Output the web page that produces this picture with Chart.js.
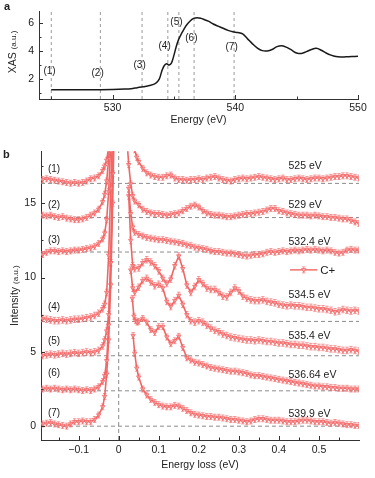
<!DOCTYPE html>
<html><head><meta charset="utf-8">
<script src="https://cdn.jsdelivr.net/npm/chart.js@4.4.0/dist/chart.umd.min.js"></script>
<style>
html,body{margin:0;padding:0;background:#fff;}
#wrap{position:relative;width:375px;height:478px;overflow:hidden;}
canvas{position:absolute;left:0;}
#ca{top:0;}
#cb{top:140px;}
</style></head><body>
<div id="wrap"><canvas id="ca" width="375" height="140"></canvas><canvas id="cb" width="375" height="338"></canvas></div>
<script>
// ---------- Panel a: XAS ----------
const xasEnergy = [525,526,527,528,529,530,531,531.5,532,532.5,533,533.5,533.8,534.0,534.2,534.4,534.6,534.8,535.0,535.2,535.4,535.6,535.8,536.0,536.3,536.6,536.9,537.2,537.5,537.8,538.2,538.6,539.0,539.4,539.8,540.2,540.6,541.0,541.4,541.8,542.2,542.6,543.0,543.4,543.8,544.2,544.6,545.0,545.4,545.8,546.2,546.6,547.0,547.4,547.8,548.2,548.6,549.0,549.5,550];
const xasValue  = [1.25,1.25,1.25,1.26,1.26,1.27,1.3,1.33,1.4,1.47,1.55,1.7,2.0,2.55,2.95,3.1,3.0,3.15,3.7,4.35,4.85,5.2,5.5,5.8,6.1,6.3,6.35,6.3,6.2,6.1,5.9,5.75,5.6,5.45,5.35,5.3,5.2,4.85,4.5,4.2,4.02,4.0,4.1,4.3,4.36,4.25,4.05,3.85,3.82,3.95,4.1,4.18,4.05,3.85,3.7,3.6,3.57,3.58,3.6,3.62];
const markEnergy = [525,529,532.4,534.5,535.4,536.64,539.9];
const markNames  = ['(1)','(2)','(3)','(4)','(5)','(6)','(7)'];
const markLabelE = [524.86,528.78,532.2,534.24,535.2,536.42,539.7];
const markLabelV = [2.53,2.44,3.0,4.36,6.04,4.88,4.29];
const xasXTicks = [530,540,550];
const xasYTicks = [2,4,6];

// ---------- Panel b: RIXS ----------
const leftX  = [-0.19,-0.18,-0.17,-0.16,-0.15,-0.14,-0.13,-0.12,-0.11,-0.10,-0.09,-0.08,-0.07,-0.06,-0.05,-0.04,-0.035,-0.03,-0.025,-0.02,-0.015,-0.01];
const rightX = [0.05,0.06,0.07,0.08,0.09,0.10,0.11,0.12,0.13,0.14,0.15,0.16,0.17,0.18,0.19,0.20,0.21,0.22,0.23,0.24,0.25,0.26,0.27,0.28,0.29,0.30,0.31,0.32,0.33,0.34,0.35,0.36,0.37,0.38,0.39,0.40,0.41,0.42,0.43,0.44,0.45,0.46,0.47,0.48,0.49,0.50,0.51,0.52,0.53,0.54,0.55,0.56,0.57,0.58,0.59,0.60];

const s1Left = [16.6,16.65,16.6,16.55,16.5,16.45,16.4,16.35,16.4,16.35,16.4,16.5,16.65,16.7,16.85,17.2,17.5,17.9,18.8,20];
const s2Left = [14.2,14.15,14.2,14.1,14.05,14.1,14.0,13.95,13.9,13.9,13.95,14.05,14.2,14.35,14.6,15.1,15.6,16.5,18.0,20];
const s3Left = [11.55,11.7,11.8,11.8,11.75,11.8,11.75,11.8,11.85,11.85,11.9,11.95,12.0,12.1,12.3,12.6,13.0,13.9,15.8,19.0];
const s4Left = [7.25,7.2,7.15,7.1,7.1,7.15,7.1,7.15,7.2,7.2,7.25,7.3,7.35,7.45,7.6,7.9,8.2,9.0,11.5,16.0,20];
const s5Left = [4.75,4.8,4.85,4.8,4.85,4.9,4.85,4.9,4.95,4.9,4.95,5.0,4.95,5.0,5.1,5.4,5.8,6.4,7.5,11.0,17.0,22];
const s6Left = [2.5,2.55,2.5,2.55,2.5,2.45,2.5,2.45,2.5,2.45,2.4,2.45,2.4,2.5,2.65,3.0,3.4,4.4,6.8,11.0,17.0,23];
const s7Left = [0.15,0.2,0.25,0.15,0.1,0.05,0.0,0.15,0.3,0.3,0.35,0.3,0.3,0.45,0.75,1.3,2.0,3.5,5.8,9.5,15.0,22];

const s1HeadX = [0.035,0.04,0.045],             s1HeadY = [19.5,18.6,18.1];
const s2HeadX = [0.02,0.025,0.03,0.035,0.04],   s2HeadY = [19.5,17.6,16.3,15.5,15.15];
const s3HeadX = [0.025,0.03,0.035,0.04],        s3HeadY = [16.0,14.3,13.4,13.05];
const s4HeadX = [0.025,0.03,0.035,0.04],        s4HeadY = [15.5,12.5,10.8,10.6];
const s5HeadX = [0.03,0.035,0.04],              s5HeadY = [10.5,9.3,9.0];
const s6HeadX = [0.034,0.038,0.042,0.046],      s6HeadY = [8.6,7.4,7.1,7.0];
const s7HeadX = [0.036,0.04,0.045],             s7HeadY = [6.1,4.9,3.9];

const s1Right = [17.8,17.35,17.05,16.9,16.8,16.75,16.75,16.85,16.9,16.7,16.6,16.6,16.55,16.6,16.6,16.65,16.6,16.7,16.75,16.8,16.7,16.6,16.55,16.5,16.6,16.65,16.7,16.65,16.7,16.75,16.8,16.75,16.7,16.65,16.6,16.65,16.7,16.6,16.6,16.65,16.7,16.65,16.6,16.65,16.7,16.7,16.65,16.7,16.75,16.8,16.8,16.85,16.85,16.8,16.75,16.7];
const s2Right = [14.9,14.6,14.45,14.35,14.3,14.3,14.25,14.2,14.25,14.3,14.35,14.5,14.65,14.8,14.88,14.75,14.5,14.35,14.25,14.2,14.2,14.15,14.1,14.1,14.15,14.2,14.25,14.3,14.3,14.35,14.4,14.45,14.55,14.65,14.65,14.5,14.45,14.35,14.3,14.25,14.2,14.2,14.2,14.15,14.2,14.15,14.1,14.1,14.05,14.05,14.0,13.95,13.95,13.85,13.75,13.65];
const s3Right = [12.9,12.8,12.7,12.65,12.6,12.55,12.55,12.5,12.45,12.4,12.35,12.3,12.2,12.15,12.05,12.0,11.95,11.9,11.8,11.75,11.75,11.7,11.65,11.65,11.6,11.55,11.5,11.45,11.5,11.55,11.55,11.6,11.7,11.75,11.7,11.75,11.8,11.75,11.8,11.85,11.8,11.85,11.9,11.85,11.9,11.85,11.8,11.85,11.8,11.7,11.65,11.7,11.85,11.9,11.85,11.85];
const s4Right = [10.65,11.0,11.2,11.05,10.8,10.45,9.95,9.6,9.9,10.8,11.45,10.6,9.5,9.0,9.4,9.85,9.6,9.3,9.2,9.2,9.0,8.75,8.7,9.0,9.3,9.1,8.75,8.6,8.5,8.45,8.45,8.5,8.4,8.35,8.3,8.2,8.15,8.1,8.15,8.1,8.1,8.05,8.0,8.0,7.95,7.9,7.9,7.85,7.8,7.7,7.75,7.85,7.8,7.75,7.8,7.75];
const s5Right = [9.35,9.8,9.95,9.7,9.45,9.55,9.3,8.4,8.05,8.45,8.8,8.2,7.5,7.1,7.0,7.1,7.0,6.8,6.6,6.45,6.35,6.2,6.1,6.0,5.95,5.9,5.85,5.8,5.8,5.75,5.8,5.75,5.7,5.7,5.65,5.6,5.6,5.55,5.5,5.5,5.45,5.45,5.4,5.35,5.35,5.3,5.3,5.25,5.2,5.2,5.15,5.1,5.1,5.15,5.1,5.05];
const s6Right = [7.05,7.25,7.0,6.5,6.3,6.7,6.7,6.0,5.55,5.75,6.05,5.3,4.6,4.45,4.3,4.25,4.15,4.05,3.95,3.9,3.85,3.8,3.75,3.7,3.7,3.65,3.6,3.55,3.45,3.4,3.4,3.35,3.3,3.25,3.2,3.15,3.1,3.05,3.0,2.95,2.9,2.85,2.8,2.75,2.7,2.7,2.65,2.65,2.6,2.6,2.55,2.55,2.55,2.5,2.5,2.5];
const s7Right = [3.3,2.5,2.1,1.8,1.6,1.45,1.35,1.3,1.3,1.4,1.35,1.2,1.05,0.9,0.8,0.75,0.7,0.65,0.65,0.6,0.6,0.55,0.5,0.45,0.45,0.4,0.35,0.3,0.35,0.45,0.5,0.5,0.45,0.4,0.4,0.4,0.35,0.3,0.3,0.3,0.35,0.4,0.4,0.35,0.3,0.3,0.3,0.25,0.2,0.25,0.2,0.15,0.1,0.1,0.05,0.05];

const errBar = [0.2,0.2,0.2,0.22,0.22,0.2,0.2];
const baselines = [16.34,14.04,11.72,7.05,4.74,2.38,0];
const specNames = ['(1)','(2)','(3)','(4)','(5)','(6)','(7)'];
const specEnergies = ['525 eV','529 eV','532.4 eV','534.5 eV','535.4 eV','536.64 eV','539.9 eV'];
const lossXTicks = [-0.1,0,0.1,0.2,0.3,0.4,0.5];
const lossXMinor = [-0.15,-0.05,0.05,0.15,0.25,0.35,0.45,0.55];
const lossYTicks = [0,5,10,15];
const lossYMinor = [2.5,7.5,12.5,17.5];

// ---------- layout / style (not data) ----------
const FONT = '"Liberation Sans", Arial, Helvetica, sans-serif';
const RED = '#f26565';
const numLabelX = -0.1615, numLabelY = [17.28,14.85,12.5,8.0,5.7,3.53,0.9];
const eLabelX = 0.424, eLabelY = [17.5,14.85,12.42,8.83,6.07,3.44,0.84];
const legendPos = {x1:0.428, x2:0.496, y:10.52, tx:0.503};
Chart.defaults.font.family = FONT;

function inwardTicks(ctx, a, xs, ys, xMaj, xMin, yMaj, yMin){
  ctx.strokeStyle='#333'; ctx.lineWidth=1;
  const ln=(x1,y1,x2,y2)=>{ctx.beginPath();ctx.moveTo(x1,y1);ctx.lineTo(x2,y2);ctx.stroke();};
  xMaj.forEach(v=>{const p=Math.round(xs.getPixelForValue(v))+0.5; ln(p,a.bottom,p,a.bottom-4);});
  xMin.forEach(v=>{const p=Math.round(xs.getPixelForValue(v))+0.5; ln(p,a.bottom,p,a.bottom-2.5);});
  yMaj.forEach(v=>{const p=Math.round(ys.getPixelForValue(v))+0.5; ln(a.left,p,a.left+4,p);});
  yMin.forEach(v=>{const p=Math.round(ys.getPixelForValue(v))+0.5; ln(a.left,p,a.left+2.5,p);});
}
function rotTitle(ctx, cx, cy, big, small, bs, ss){
  ctx.save(); ctx.translate(cx,cy); ctx.rotate(-Math.PI/2);
  ctx.font=bs+'px '+FONT; const w1=ctx.measureText(big).width;
  ctx.font=ss+'px '+FONT; const w2=ctx.measureText(small).width;
  const x0=-(w1+w2)/2; ctx.textAlign='left'; ctx.textBaseline='middle'; ctx.fillStyle='#222';
  ctx.font=bs+'px '+FONT; ctx.fillText(big,x0,0);
  ctx.font=ss+'px '+FONT; ctx.fillText(small,x0+w1,0.5);
  ctx.restore();
}

const annA = {
  id:'annA',
  afterDraw(chart){
    const {ctx, chartArea:a, scales:{x,y}} = chart;
    ctx.save();
    inwardTicks(ctx,a,x,y,xasXTicks,[525,535,545],xasYTicks,[1,3,5]);
    ctx.fillStyle='#222'; ctx.font='10px '+FONT; ctx.textAlign='center'; ctx.textBaseline='middle';
    markNames.forEach((n,i)=>ctx.fillText(n,x.getPixelForValue(markLabelE[i]),y.getPixelForValue(markLabelV[i])));
    ctx.font='10.5px '+FONT;
    ctx.fillText('Energy (eV)',(a.left+a.right)/2,a.bottom+21.5);
    ctx.font='bold 11px '+FONT; ctx.textAlign='left'; ctx.textBaseline='top';
    ctx.fillText('a',4,1);
    ctx.restore();
    rotTitle(ctx,13,52,'XAS ','(a.u.)',10.5,8);
  }
};

new Chart(document.getElementById('ca'),{
  type:'scatter',
  data:{datasets:[
    {data:xasEnergy.map((e,i)=>({x:e,y:xasValue[i]})),showLine:true,borderColor:'#1a1a1a',borderWidth:1.5,pointRadius:0,tension:0.35,order:0},
    ...markEnergy.map(e=>({data:[{x:e,y:0.6},{x:e,y:6.8}],showLine:true,borderColor:'#9a9a9a',borderWidth:1,borderDash:[3,3],pointRadius:0,order:1}))
  ]},
  options:{
    responsive:false,animation:false,devicePixelRatio:1,
    layout:{padding:{top:11,right:17,left:0,bottom:0}},
    plugins:{legend:{display:false},tooltip:{enabled:false}},
    scales:{
      x:{type:'linear',min:524,max:550,
        afterBuildTicks:s=>{s.ticks=xasXTicks.map(v=>({value:v}));},
        afterFit:s=>{s.height=41;},
        grid:{display:false,drawTicks:false},border:{display:true,color:'#333',width:1},
        ticks:{font:{size:10.5},color:'#222',padding:3,maxRotation:0,callback:v=>String(v)}},
      y:{type:'linear',min:0.6,max:6.8,
        afterBuildTicks:s=>{s.ticks=xasYTicks.map(v=>({value:v}));},
        afterFit:s=>{s.width=39;},
        grid:{display:false,drawTicks:false},border:{display:true,color:'#333',width:1},
        ticks:{font:{size:10.5},color:'#222',padding:5,callback:v=>String(v)}}
    }
  },
  plugins:[annA]
});

// ---------- panel b ----------
const lefts=[s1Left,s2Left,s3Left,s4Left,s5Left,s6Left,s7Left];
const headsX=[s1HeadX,s2HeadX,s3HeadX,s4HeadX,s5HeadX,s6HeadX,s7HeadX];
const headsY=[s1HeadY,s2HeadY,s3HeadY,s4HeadY,s5HeadY,s6HeadY,s7HeadY];
const rights=[s1Right,s2Right,s3Right,s4Right,s5Right,s6Right,s7Right];

const specSets = lefts.map((L,i)=>{
  const d = L.map((v,j)=>({x:leftX[j],y:v}))
    .concat([{x:0.005,y:null}])
    .concat(headsX[i].map((hx,j)=>({x:hx,y:headsY[i][j]})))
    .concat(rights[i].map((v,j)=>({x:rightX[j],y:v})));
  return {data:d,showLine:true,spanGaps:false,borderColor:RED,borderWidth:1.6,
    pointStyle:'triangle',rotation:180,pointRadius:2.5,pointBorderWidth:0.8,
    pointBorderColor:RED,pointBackgroundColor:'rgba(255,190,190,0.95)',order:0,err:errBar[i]};
});
const dashSets = baselines.map(b=>({data:[{x:-0.194,y:b},{x:0.6,y:b}],showLine:true,borderColor:'#8c8c8c',borderWidth:1,borderDash:[4,3],pointRadius:0,order:2}));
dashSets.push({data:[{x:0,y:-0.93},{x:0,y:18.5}],showLine:true,borderColor:'#8c8c8c',borderWidth:1,borderDash:[4,3],pointRadius:0,order:2});

const errPlugin = {
  id:'errbars',
  afterDatasetsDraw(chart){
    const {ctx, chartArea:a, scales:{y}} = chart;
    ctx.save();
    ctx.beginPath(); ctx.rect(a.left,a.top,a.right-a.left,a.bottom-a.top); ctx.clip();
    ctx.strokeStyle='rgba(240,100,100,0.8)'; ctx.lineWidth=0.8;
    chart.data.datasets.forEach((ds,i)=>{
      if(ds.err==null) return;
      const meta=chart.getDatasetMeta(i);
      meta.data.forEach((pt,j)=>{
        const v=ds.data[j].y; if(v==null||isNaN(pt.x)) return;
        const y1=y.getPixelForValue(v-ds.err), y2=y.getPixelForValue(v+ds.err);
        ctx.beginPath();
        ctx.moveTo(pt.x,y1); ctx.lineTo(pt.x,y2);
        ctx.moveTo(pt.x-1.7,y1); ctx.lineTo(pt.x+1.7,y1);
        ctx.moveTo(pt.x-1.7,y2); ctx.lineTo(pt.x+1.7,y2);
        ctx.stroke();
      });
    });
    ctx.restore();
  }
};

const annB = {
  id:'annB',
  afterDraw(chart){
    const {ctx, chartArea:a, scales:{x,y}} = chart;
    ctx.save();
    inwardTicks(ctx,a,x,y,lossXTicks,lossXMinor,lossYTicks,lossYMinor);
    ctx.fillStyle='#222'; ctx.textBaseline='middle';
    ctx.font='10px '+FONT; ctx.textAlign='center';
    specNames.forEach((n,i)=>ctx.fillText(n,x.getPixelForValue(numLabelX),y.getPixelForValue(numLabelY[i])));
    ctx.font='10.5px '+FONT; ctx.textAlign='left';
    specEnergies.forEach((t,i)=>ctx.fillText(t,x.getPixelForValue(eLabelX),y.getPixelForValue(eLabelY[i])));
    // legend
    const lx1=x.getPixelForValue(legendPos.x1), lx2=x.getPixelForValue(legendPos.x2), ly=y.getPixelForValue(legendPos.y);
    ctx.strokeStyle=RED; ctx.lineWidth=1.4; ctx.beginPath(); ctx.moveTo(lx1,ly); ctx.lineTo(lx2,ly); ctx.stroke();
    const mx=(lx1+lx2)/2;
    ctx.strokeStyle='rgba(240,100,100,0.8)'; ctx.lineWidth=0.8; ctx.beginPath();
    ctx.moveTo(mx,ly-3); ctx.lineTo(mx,ly+3); ctx.moveTo(mx-1.7,ly-3); ctx.lineTo(mx+1.7,ly-3); ctx.moveTo(mx-1.7,ly+3); ctx.lineTo(mx+1.7,ly+3); ctx.stroke();
    ctx.fillStyle='rgba(255,190,190,0.95)'; ctx.strokeStyle=RED; ctx.beginPath();
    ctx.moveTo(mx-2.2,ly-1.3); ctx.lineTo(mx+2.2,ly-1.3); ctx.lineTo(mx,ly+2.2); ctx.closePath(); ctx.fill(); ctx.stroke();
    ctx.fillStyle='#222'; ctx.font='11.5px '+FONT; ctx.textAlign='left';
    ctx.fillText('C+',x.getPixelForValue(legendPos.tx),ly+0.5);
    ctx.font='10.5px '+FONT; ctx.textAlign='center';
    ctx.fillText('Energy loss (eV)',(a.left+a.right)/2,a.bottom+25);
    ctx.font='bold 11px '+FONT; ctx.textAlign='left'; ctx.textBaseline='top';
    ctx.fillText('b',3,9);
    ctx.restore();
    rotTitle(ctx,15,(a.top+a.bottom)/2,'Intensity ','(a.u.)',10.5,8);
  }
};

new Chart(document.getElementById('cb'),{
  type:'scatter',
  data:{datasets:[...specSets,...dashSets]},
  options:{
    responsive:false,animation:false,devicePixelRatio:1,
    layout:{padding:{top:7,right:16,left:0,bottom:0}},
    plugins:{legend:{display:false},tooltip:{enabled:false}},
    scales:{
      x:{type:'linear',min:-0.194,max:0.6,
        afterBuildTicks:s=>{s.ticks=lossXTicks.map(v=>({value:v}));},
        afterFit:s=>{s.height=38;},
        grid:{display:false,drawTicks:false},border:{display:true,color:'#333',width:1},
        ticks:{font:{size:10.5},color:'#222',padding:4,maxRotation:0,
          callback:v=>v===0?'0':(v<0?'\u2212':'')+Math.abs(v).toFixed(1)}},
      y:{type:'linear',min:-0.93,max:18.5,
        afterBuildTicks:s=>{s.ticks=lossYTicks.map(v=>({value:v}));},
        afterFit:s=>{s.width=41;},
        grid:{display:false,drawTicks:false},border:{display:true,color:'#333',width:1},
        ticks:{font:{size:10.5},color:'#222',padding:5,callback:v=>String(v)}}
    }
  },
  plugins:[errPlugin,annB]
});
</script>
</body></html>
